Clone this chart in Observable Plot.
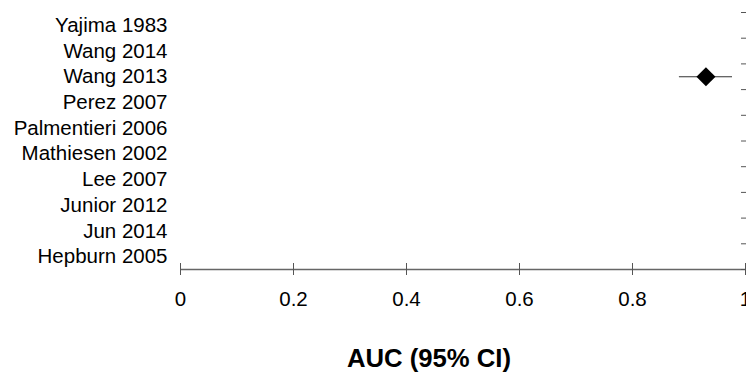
<!DOCTYPE html>
<html>
<head>
<meta charset="utf-8">
<script src="https://cdn.jsdelivr.net/npm/d3@7"></script>
<script src="https://cdn.jsdelivr.net/npm/@observablehq/plot@0.6"></script>
<style>
  html, body { margin: 0; padding: 0; background: #fff; }
  #title { width: 746px; box-sizing: border-box; padding-left: 112px; text-align: center;
    font-family: "Liberation Sans", Arial, sans-serif; font-weight: bold; font-size: 25.7px;
    line-height: 1; margin-top: 26px; color: #000; }
</style>
</head>
<body>
<div id="chart"></div>
<div id="title">AUC (95% CI)</div>
<script>
// Studies listed top to bottom as in the reference
const studies = ["Yajima 1983", "Wang 2014", "Wang 2013", "Perez 2007", "Palmentieri 2006",
                 "Mathiesen 2002", "Lee 2007", "Junior 2012", "Jun 2014", "Hepburn 2005"];
const auc   = [null, null, 0.93, null, null, null, null, null, null, null];
const lower = [null, null, 0.883, null, null, null, null, null, null, null];
const upper = [null, null, 0.977, null, null, null, null, null, null, null];
const xTicks = [0, 0.2, 0.4, 0.6, 0.8, 1];

const n = studies.length;
const rows = studies.map((s, i) => ({study: s, pos: n - 1 - i + 0.5, auc: auc[i], lo: lower[i], hi: upper[i]}));
const shown = rows.filter(d => d.auc != null);
const labelPos = rows.map(d => d.pos);
const boundaries = d3.range(0, n + 1);
const labelOf = new Map(rows.map(d => [d.pos, d.study]));

const W = 746, H = 320;
const chart = Plot.plot({
  width: W,
  height: H,
  marginLeft: 180,
  marginRight: 1,
  marginTop: 12,
  marginBottom: 51,
  style: {fontFamily: "Liberation Sans, Arial, sans-serif", fontSize: "20.5px", color: "#000", background: "#fff"},
  x: {domain: [0, 1]},
  y: {domain: [0, n]},
  marks: [
    Plot.ruleY([0], {stroke: "#666", strokeWidth: 1.3}),
    // x ticks crossing the axis line
    Plot.axisX({ticks: xTicks, tickSize: 12, dy: -6, tickFormat: () => "", stroke: "#555", label: null}),
    Plot.axisX({ticks: xTicks, tickSize: 0, tickPadding: 22, tickFormat: d => d === 0 ? "0" : d === 1 ? "1" : String(d), fill: "#000", fontSize: 20.5, label: null}),
    // study labels
    Plot.axisY({anchor: "left", ticks: labelPos, tickSize: 0, tickPadding: 13, tickFormat: d => labelOf.get(d), fill: "#000", fontSize: 20.5, label: null}),
    // right-side row boundary ticks
    Plot.axisY({anchor: "right", ticks: boundaries, tickSize: 5, dx: -5, tickFormat: () => "", stroke: "#555", label: null}),
    Plot.ruleY(shown, {y: "pos", x1: "lo", x2: "hi", stroke: "#333", strokeWidth: 1.2}),
    Plot.dot(shown, {x: "auc", y: "pos", symbol: "diamond2", r: 8.6, fill: "#000", stroke: "none"})
  ]
});
document.getElementById("chart").appendChild(chart);
</script>
</body>
</html>
